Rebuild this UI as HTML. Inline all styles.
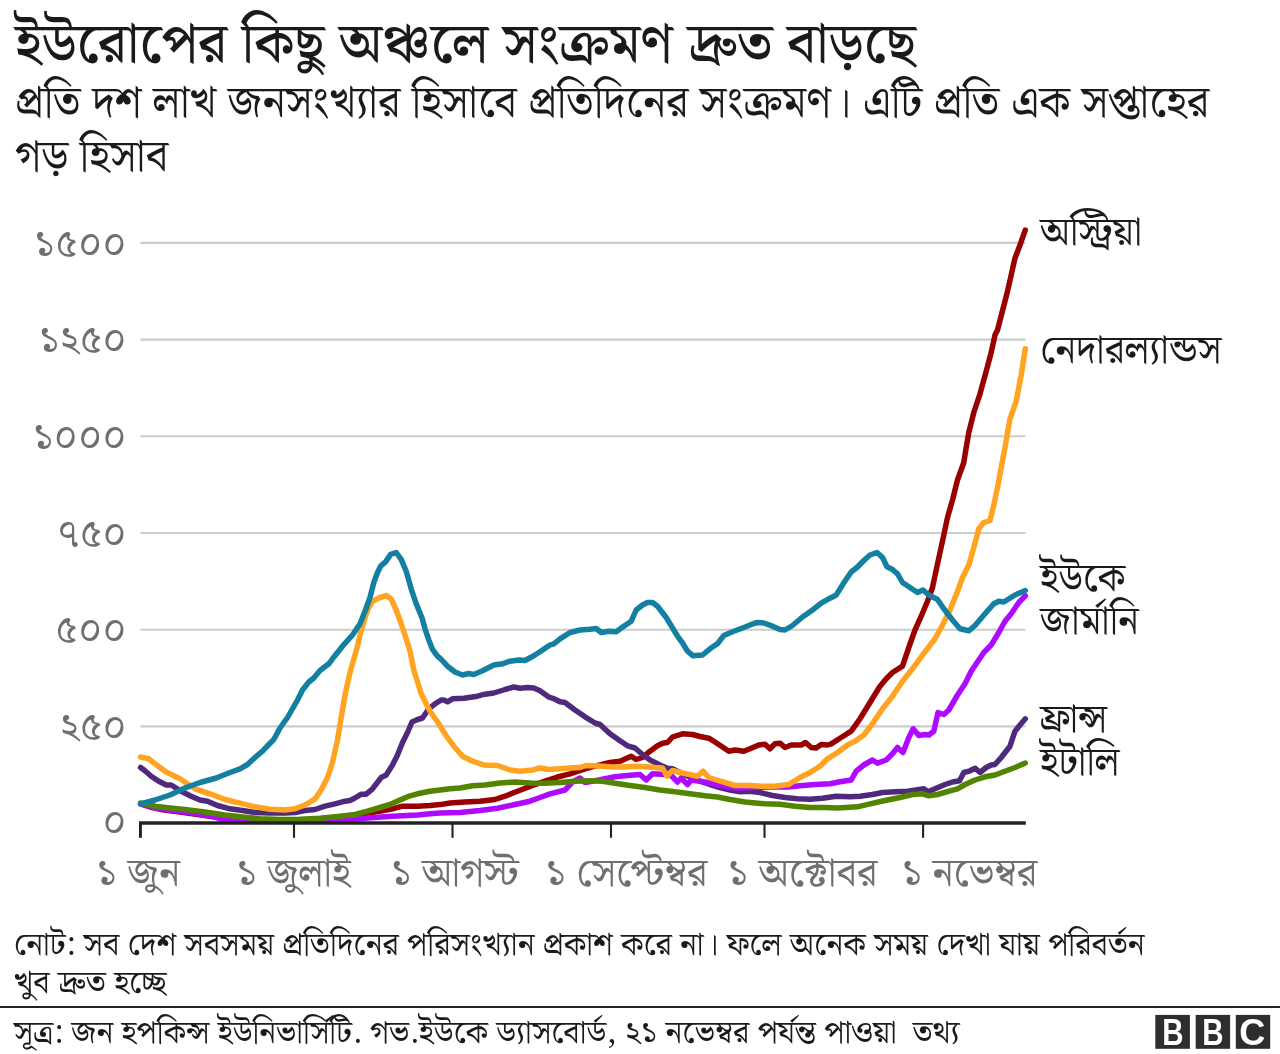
<!DOCTYPE html>
<html lang="bn">
<head>
<meta charset="utf-8">
<title>ইউরোপের কিছু অঞ্চলে সংক্রমণ দ্রুত বাড়ছে</title>
<style>
html,body{margin:0;padding:0;background:#fff;}
body{width:1280px;height:1054px;position:relative;overflow:hidden;
 font-family:"Noto Serif Bengali","Liberation Sans","Noto Sans Bengali","Lohit Bengali","FreeSerif",serif;color:#1a1a1a;}
.t{position:absolute;white-space:nowrap;line-height:1;}
#title{left:15px;top:18px;font-size:56px;font-weight:500;}
#sub1{left:15px;top:81.5px;font-size:44px;}
#sub2{left:15px;top:135.5px;font-size:44px;}
#note1{left:13.7px;top:930px;font-size:32px;}
#note2{left:13.7px;top:968.2px;font-size:32px;}
#src{left:13.7px;top:1018.3px;font-size:32px;}
#rule{position:absolute;left:0;top:1006px;width:1280px;height:2px;background:#222;}
svg{position:absolute;left:0;top:0;}
svg text{font-family:"Noto Serif Bengali","Liberation Sans","Noto Sans Bengali","Lohit Bengali","FreeSerif",serif;}
.yl{font-size:40px;fill:#6e6e73;text-anchor:end;}
.xl{font-size:40px;fill:#6e6e73;}
.cl{font-size:39.5px;fill:#1a1a1a;}
svg .bbc text{font-family:"Liberation Sans",Arial,Helvetica,sans-serif;font-weight:700;font-size:38px;fill:#fff;text-anchor:middle;}
</style>
</head>
<body>
<div class="t" id="title">ইউরোপের কিছু অঞ্চলে সংক্রমণ দ্রুত বাড়ছে</div>
<div class="t" id="sub1">প্রতি দশ লাখ জনসংখ্যার হিসাবে প্রতিদিনের সংক্রমণ। এটি প্রতি এক সপ্তাহের</div>
<div class="t" id="sub2">গড় হিসাব</div>
<svg width="1280" height="1054" viewBox="0 0 1280 1054">
<g stroke="#cccccc" stroke-width="2.1">
<line x1="140.5" x2="1025.5" y1="242.90" y2="242.90"/>
<line x1="140.5" x2="1025.5" y1="339.60" y2="339.60"/>
<line x1="140.5" x2="1025.5" y1="436.30" y2="436.30"/>
<line x1="140.5" x2="1025.5" y1="533.00" y2="533.00"/>
<line x1="140.5" x2="1025.5" y1="629.70" y2="629.70"/>
<line x1="140.5" x2="1025.5" y1="726.40" y2="726.40"/>
</g>
<g id="curves" fill="none" stroke-width="5.5" stroke-linejoin="round" stroke-linecap="round">
<path stroke="#990000" d="M140.6,804.0 L150.0,807.0 L162.5,809.8 L180.0,812.0 L205.0,815.5 L230.0,819.5 L255.0,820.8 L280.0,820.8 L305.0,820.0 L330.0,818.8 L350.0,816.2 L367.5,813.0 L380.0,811.2 L392.5,808.8 L402.5,806.2 L417.5,806.2 L430.0,805.5 L440.0,804.6 L450.0,803.0 L465.0,802.0 L480.0,801.2 L495.0,799.5 L505.0,796.2 L517.5,791.2 L532.5,785.5 L545.0,781.2 L557.5,777.0 L570.0,773.8 L585.0,768.8 L595.0,766.2 L610.0,762.5 L620.0,761.2 L631.2,756.2 L636.2,759.5 L642.5,757.5 L650.0,751.2 L657.5,745.8 L662.5,743.2 L667.5,742.5 L672.5,737.0 L682.5,733.8 L692.5,734.5 L700.0,736.5 L708.8,738.2 L715.0,742.0 L722.5,747.0 L728.8,751.2 L735.0,750.0 L743.8,751.2 L750.0,748.8 L758.8,745.0 L765.0,744.2 L770.0,748.8 L775.0,743.8 L780.0,743.2 L785.0,747.5 L791.2,745.0 L801.2,745.0 L805.5,742.5 L811.2,747.5 L816.2,748.0 L821.2,744.5 L827.5,745.0 L831.2,743.8 L841.2,737.5 L851.2,731.2 L860.0,718.8 L870.0,702.5 L880.0,686.2 L886.2,678.8 L892.5,672.5 L902.5,666.2 L908.8,647.5 L915.0,630.0 L921.2,616.2 L927.5,601.2 L932.5,587.5 L936.2,570.0 L940.0,552.5 L943.8,535.0 L947.5,517.5 L952.5,500.0 L957.5,480.0 L963.8,462.5 L966.2,447.5 L968.8,432.5 L973.8,412.5 L980.0,393.8 L986.2,371.2 L991.2,352.5 L995.0,335.0 L997.5,330.0 L1006.9,293.8 L1011.2,275.0 L1014.8,258.8 L1020.0,245.0 L1025.3,230.0"/>
<path stroke="#4f2a7c" d="M140.6,767.5 L145.0,770.8 L151.2,776.2 L158.8,781.2 L166.2,785.0 L171.2,785.0 L180.0,790.5 L190.0,795.8 L200.0,800.0 L207.5,801.2 L217.5,805.5 L230.0,808.8 L242.5,810.5 L255.0,812.5 L270.0,813.0 L285.0,813.0 L295.0,812.5 L305.0,810.5 L315.0,809.5 L325.0,806.2 L335.0,803.8 L345.0,801.2 L350.0,800.5 L355.0,798.0 L361.2,794.2 L366.2,794.2 L372.5,788.8 L381.2,777.5 L386.2,775.0 L392.5,765.0 L397.5,755.0 L402.5,742.5 L407.5,732.5 L412.0,722.0 L417.5,719.5 L422.5,718.0 L428.8,708.8 L435.0,703.8 L441.2,700.0 L443.8,700.0 L447.5,701.8 L452.5,698.8 L463.8,698.2 L477.5,696.2 L485.0,694.2 L493.8,693.0 L505.0,689.5 L513.8,687.0 L520.0,688.2 L527.5,687.5 L533.8,688.0 L540.0,690.8 L548.8,697.0 L555.0,699.2 L560.0,701.8 L565.0,702.5 L575.0,710.0 L585.0,716.8 L595.0,723.0 L600.0,724.5 L610.0,733.8 L620.0,740.8 L627.5,745.8 L635.0,748.0 L642.5,754.5 L650.0,760.0 L660.0,765.0 L667.5,768.2 L672.5,768.8 L680.0,772.5 L690.0,777.0 L700.0,781.2 L710.0,784.5 L720.0,787.5 L730.0,790.0 L740.0,791.8 L750.0,791.2 L760.0,792.5 L772.5,795.5 L785.0,797.5 L797.5,798.8 L810.0,799.2 L822.5,798.2 L836.2,796.2 L850.0,796.8 L860.0,796.2 L872.5,794.5 L882.5,792.5 L895.0,791.8 L907.5,791.2 L916.2,790.0 L923.8,788.8 L928.0,791.8 L935.0,788.8 L945.0,784.5 L952.5,782.0 L959.5,780.8 L963.8,772.5 L970.0,770.8 L975.0,768.2 L980.0,772.5 L986.2,767.5 L991.2,765.0 L995.0,764.5 L1001.2,757.5 L1010.0,746.2 L1015.0,731.2 L1020.0,725.0 L1025.3,718.8"/>
<path stroke="#ae0aff" d="M140.6,803.8 L155.0,807.8 L170.0,810.2 L192.5,813.0 L212.5,816.2 L225.0,820.0 L242.5,820.8 L280.0,821.2 L317.5,820.8 L342.5,820.0 L367.5,818.0 L392.5,816.2 L417.5,815.0 L430.0,813.8 L440.0,812.9 L460.0,812.5 L480.0,810.5 L497.5,808.2 L515.0,804.5 L530.0,801.2 L540.0,797.5 L550.0,793.8 L565.0,790.0 L572.5,782.0 L580.0,778.0 L585.0,782.5 L595.0,780.8 L605.0,778.8 L615.0,776.8 L627.5,775.5 L640.0,774.5 L646.2,780.0 L652.5,773.8 L665.0,774.5 L671.2,775.5 L677.5,782.0 L681.2,778.0 L687.5,784.5 L691.2,780.0 L700.0,781.2 L710.0,783.0 L717.5,785.0 L725.0,786.2 L732.5,787.5 L740.0,788.2 L750.0,787.6 L770.0,787.0 L787.5,787.0 L800.0,785.8 L815.0,784.5 L830.0,783.8 L840.0,781.8 L851.2,780.0 L856.2,771.2 L863.8,765.0 L872.5,760.0 L877.5,763.2 L886.2,760.0 L892.5,753.8 L897.5,747.5 L903.0,752.5 L908.8,737.5 L913.2,728.8 L918.8,735.5 L925.0,734.5 L928.8,735.0 L933.8,731.2 L938.0,712.5 L943.8,714.5 L948.8,710.0 L957.5,695.0 L965.0,683.8 L971.2,671.2 L983.8,652.5 L991.2,645.0 L998.8,632.5 L1005.0,621.2 L1011.2,613.8 L1018.8,602.5 L1025.3,595.8"/>
<path stroke="#528400" d="M140.6,803.0 L155.0,806.2 L170.0,808.0 L185.0,809.5 L205.0,812.0 L225.0,815.0 L242.5,817.0 L260.0,818.8 L280.0,819.5 L300.0,819.2 L320.0,818.2 L340.0,816.2 L355.0,814.5 L367.5,811.2 L380.0,807.5 L390.0,804.5 L400.0,800.0 L410.0,795.8 L417.5,793.8 L430.0,791.2 L440.0,790.1 L450.0,788.8 L460.0,788.0 L472.5,785.8 L485.0,785.0 L500.0,783.0 L515.0,782.0 L530.0,783.0 L545.0,783.2 L560.0,782.5 L575.0,781.2 L590.0,780.8 L602.5,781.2 L615.0,783.2 L630.0,785.5 L645.0,787.5 L660.0,790.0 L675.0,791.8 L690.0,793.8 L705.0,795.8 L717.5,797.0 L730.0,799.5 L745.0,802.0 L750.0,802.5 L765.0,803.8 L780.0,804.2 L795.0,806.2 L810.0,807.5 L825.0,807.5 L837.5,808.0 L857.5,806.8 L870.0,803.8 L885.0,800.5 L900.0,797.5 L912.5,794.5 L922.5,793.8 L928.8,795.8 L937.5,794.5 L950.0,790.8 L957.5,788.8 L965.0,784.5 L975.0,780.0 L985.0,776.8 L995.0,775.0 L1005.0,771.2 L1015.0,767.5 L1025.3,763.0"/>
<path stroke="#ffa320" d="M140.6,757.0 L148.8,758.8 L155.0,763.8 L166.2,772.0 L180.0,778.8 L195.0,788.8 L210.0,793.8 L225.0,799.5 L240.0,803.2 L255.0,806.8 L270.0,809.2 L285.0,810.0 L295.0,808.8 L305.0,805.0 L315.0,798.8 L321.2,790.0 L327.5,777.5 L332.5,762.5 L337.5,740.0 L341.2,717.5 L345.0,695.0 L350.0,672.5 L357.5,646.2 L360.6,632.5 L365.0,617.5 L368.8,607.5 L372.5,601.2 L380.0,597.5 L386.2,595.6 L391.2,599.1 L396.2,610.0 L401.2,623.8 L406.2,638.8 L410.0,651.2 L413.8,670.0 L421.2,693.8 L430.0,711.2 L438.8,723.8 L445.6,735.0 L453.8,746.2 L462.5,756.2 L472.5,761.2 L483.8,765.0 L497.5,765.5 L510.0,770.0 L520.0,771.2 L532.5,770.0 L540.0,768.0 L548.8,769.5 L560.0,768.8 L570.0,768.0 L580.0,767.5 L586.2,765.5 L595.0,765.8 L610.0,766.8 L622.5,767.0 L637.5,766.2 L647.5,766.8 L655.0,767.5 L662.5,768.0 L667.0,776.2 L672.5,770.5 L682.5,773.0 L697.5,776.2 L703.0,771.2 L708.8,777.5 L715.0,779.5 L725.0,782.5 L735.0,785.5 L747.5,785.5 L750.0,785.5 L762.5,786.2 L775.0,786.2 L788.8,784.5 L800.0,777.5 L810.0,772.5 L820.0,766.2 L827.5,758.8 L837.5,752.5 L847.5,745.0 L855.0,741.2 L863.8,735.0 L872.5,723.8 L882.5,708.8 L892.5,696.2 L902.5,681.2 L912.5,668.8 L922.5,655.0 L935.0,638.8 L942.5,625.0 L950.0,610.0 L957.5,591.2 L962.5,577.5 L968.8,565.0 L973.8,547.5 L978.8,528.8 L983.8,522.5 L990.0,520.5 L993.8,505.0 L997.5,487.5 L1001.2,467.5 L1005.0,447.5 L1010.0,418.8 L1016.2,401.2 L1021.2,375.0 L1025.3,348.8"/>
<path stroke="#1380a1" d="M140.6,803.8 L155.0,800.0 L170.0,795.0 L185.0,788.0 L200.0,782.5 L216.2,778.0 L230.0,772.5 L240.0,768.8 L247.5,764.5 L255.0,757.5 L262.5,751.2 L268.8,744.5 L273.8,739.5 L280.0,728.0 L287.5,717.5 L297.5,700.0 L302.5,690.0 L308.8,682.0 L313.8,678.0 L320.0,670.5 L328.8,663.8 L332.5,658.8 L342.5,646.2 L352.5,635.0 L360.0,623.8 L365.0,611.2 L370.0,597.5 L373.8,582.5 L377.5,572.5 L380.6,566.2 L385.6,561.9 L390.6,554.4 L396.2,552.5 L401.2,559.4 L406.2,571.2 L411.2,588.8 L416.2,603.8 L421.9,617.5 L425.0,628.8 L428.8,640.0 L432.5,649.4 L437.5,656.2 L441.2,659.4 L447.5,666.2 L455.0,672.0 L462.5,675.0 L468.8,673.5 L473.8,674.5 L482.5,670.8 L493.8,665.0 L502.5,663.8 L510.0,661.2 L518.8,660.0 L525.0,660.5 L533.8,655.8 L540.0,651.8 L550.0,645.0 L553.8,643.8 L560.0,638.8 L570.0,632.5 L580.0,630.0 L590.0,629.2 L596.2,628.5 L601.2,632.5 L608.8,631.2 L616.2,631.8 L623.8,626.2 L631.2,621.2 L636.2,610.0 L642.5,605.0 L647.5,602.5 L652.5,602.5 L657.5,606.2 L666.2,617.5 L677.5,636.2 L682.5,643.0 L687.5,651.2 L693.0,655.8 L702.5,655.0 L710.0,648.8 L718.0,643.2 L723.8,635.5 L732.5,631.8 L742.5,628.0 L753.8,623.5 L757.5,622.5 L763.8,623.0 L772.5,626.2 L780.0,629.5 L785.0,630.0 L792.5,625.5 L802.5,617.0 L812.5,610.0 L821.2,603.2 L830.0,598.2 L836.2,595.0 L844.4,581.9 L851.2,572.0 L857.5,567.0 L863.8,560.5 L870.0,555.0 L877.0,552.5 L882.5,557.5 L887.0,566.8 L892.5,569.5 L897.5,573.8 L902.5,582.5 L910.0,587.5 L917.5,592.5 L923.0,590.0 L928.8,595.0 L937.5,599.5 L943.8,608.8 L952.5,620.0 L960.0,628.8 L968.8,630.8 L975.0,625.5 L985.0,613.8 L993.8,603.8 L998.8,601.2 L1003.8,602.0 L1015.0,595.0 L1025.3,590.5"/>
</g>
<g stroke="#222" fill="none">
<path stroke-width="3.5" d="M139,823.05 H1025.8"/>
<path stroke-width="2.9" d="M140.45,823 V837.8"/>
<g stroke-width="2.1">
<line x1="294" x2="294" y1="823" y2="837.8"/>
<line x1="452.5" x2="452.5" y1="823" y2="837.8"/>
<line x1="611" x2="611" y1="823" y2="837.8"/>
<line x1="764.5" x2="764.5" y1="823" y2="837.8"/>
<line x1="923.1" x2="923.1" y1="823" y2="837.8"/>
</g>
</g>
<g class="yl">
<text x="126.7" y="256.5">১৫০০</text>
<text x="126.7" y="353.2">১২৫০</text>
<text x="126.7" y="449.9">১০০০</text>
<text x="126.7" y="546.6">৭৫০</text>
<text x="126.7" y="643.2">৫০০</text>
<text x="126.7" y="740.0">২৫০</text>
<text x="126.7" y="835.3">০</text>
</g>
<g class="xl">
<text x="96.1" y="886.1">১ জুন</text>
<text x="235.9" y="886.1">১ জুলাই</text>
<text x="390.4" y="886.1">১ আগস্ট</text>
<text x="544.9" y="886.1">১ সেপ্টেম্বর</text>
<text x="727.2" y="886.1">১ অক্টোবর</text>
<text x="901.2" y="886.1">১ নভেম্বর</text>
</g>
<g class="cl">
<text x="1040" y="245.4">অস্ট্রিয়া</text>
<text x="1040" y="363.4">নেদারল্যান্ডস</text>
<text x="1040" y="590.9">ইউকে</text>
<text x="1040" y="634">জার্মানি</text>
<text x="1040" y="731.8">ফ্রান্স</text>
<text x="1040" y="775.4">ইটালি</text>
</g>
<g id="bbc">
<rect x="1155.3" y="1014.9" width="34.6" height="33.9" fill="#2e2e2e"/>
<rect x="1195.7" y="1014.9" width="34.4" height="33.9" fill="#2e2e2e"/>
<rect x="1235.8" y="1014.9" width="34.4" height="33.9" fill="#2e2e2e"/>
<g class="bbc">
<text transform="translate(1172.8,1045.2) scale(0.777,0.985)">B</text>
<text transform="translate(1213,1045.2) scale(0.777,0.985)">B</text>
<text transform="translate(1252.4,1045.4) scale(0.95,0.985)">C</text>
</g>
</g>
</svg>
<div class="t" id="note1">নোট: সব দেশ সবসময় প্রতিদিনের পরিসংখ্যান প্রকাশ করে না। ফলে অনেক সময় দেখা যায় পরিবর্তন</div>
<div class="t" id="note2">খুব দ্রুত হচ্ছে</div>
<div id="rule"></div>
<div class="t" id="src">সূত্র: জন হপকিন্স ইউনিভার্সিটি. গভ.ইউকে ড্যাসবোর্ড, ২১ নভেম্বর পর্যন্ত পাওয়া&nbsp; তথ্য</div>
</body>
</html>
